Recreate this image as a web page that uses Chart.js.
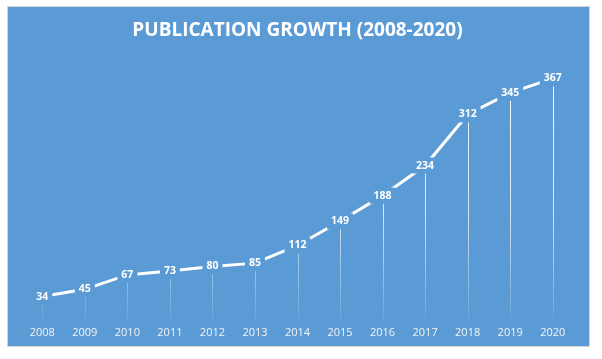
<!DOCTYPE html>
<html>
<head>
<meta charset="utf-8">
<script src="https://cdn.jsdelivr.net/npm/chart.js@4"></script>
<style>
  html, body { margin: 0; padding: 0; background: #ffffff; }
  #box {
    position: absolute; left: 7px; top: 6px; width: 583px; height: 341px;
    box-sizing: border-box; border: 1px solid #d4d4d4; background: #5b9bd5;
  }
  #box canvas { display: block; }
</style>
</head>
<body>
<div id="box"><canvas id="growthChart"></canvas></div>
<script>
const years = ['2008', '2009', '2010', '2011', '2012', '2013', '2014', '2015', '2016', '2017', '2018', '2019', '2020'];
const publications = [34, 45, 67, 73, 80, 85, 112, 149, 188, 234, 312, 345, 367];

const bgColor = '#5b9bd5';

// drop lines from each point down to the axis, fading toward the bottom
const dropLines = {
    id: 'dropLines',
    beforeDatasetsDraw(chart) {
        const ctx = chart.ctx;
        const area = chart.chartArea;
        const grad = ctx.createLinearGradient(0, area.top, 0, area.bottom);
        grad.addColorStop(0, 'rgba(255,255,255,1)');
        grad.addColorStop(0.6, 'rgba(255,255,255,0.75)');
        grad.addColorStop(1, 'rgba(255,255,255,0.1)');
        ctx.save();
        ctx.strokeStyle = grad;
        ctx.lineWidth = 1;
        chart.getDatasetMeta(0).data.forEach((pt) => {
            const x = Math.round(pt.x) + 0.5;
            ctx.beginPath();
            ctx.moveTo(x, pt.y);
            ctx.lineTo(x, area.bottom);
            ctx.stroke();
        });
        ctx.restore();
    }
};

// value labels centred on the points, with a box that hides the line
const valueLabels = {
    id: 'valueLabels',
    afterDatasetsDraw(chart) {
        const ctx = chart.ctx;
        ctx.save();
        ctx.font = 'bold 10.5px "Open Sans"';
        ctx.textAlign = 'center';
        ctx.textBaseline = 'middle';
        chart.getDatasetMeta(0).data.forEach((pt, i) => {
            const txt = String(publications[i]);
            const w = ctx.measureText(txt).width;
            ctx.fillStyle = bgColor;
            ctx.fillRect(pt.x - w / 2 - 4, pt.y - 8, w + 8, 16);
            ctx.fillStyle = '#ffffff';
            ctx.fillText(txt, pt.x, pt.y);
        });
        ctx.restore();
    }
};

const ctx = document.getElementById('growthChart').getContext('2d');
ctx.canvas.width = 581;
ctx.canvas.height = 339;

new Chart(ctx, {
    type: 'line',
    data: {
        labels: years,
        datasets: [{
            label: 'Publications',
            data: publications,
            borderColor: '#ffffff',
            borderWidth: 3,
            pointRadius: 0,
            tension: 0,
            fill: false
        }]
    },
    options: {
        responsive: false,
        animation: false,
        layout: {
            padding: { left: 13, right: 15, top: 0, bottom: 0 }
        },
        plugins: {
            legend: { display: false },
            tooltip: { enabled: false },
            title: {
                display: true,
                text: 'PUBLICATION GROWTH (2008-2020)',
                color: '#ffffff',
                font: { family: '"Open Sans"', size: 19, weight: 'bold' },
                padding: { top: 12, bottom: 15 }
            }
        },
        scales: {
            x: {
                offset: true,
                grid: { display: false, drawTicks: false },
                border: { display: false },
                ticks: {
                    color: '#f4f4f4',
                    font: { family: '"Open Sans"', size: 11 },
                    padding: 7,
                    maxRotation: 0
                }
            },
            y: {
                display: false,
                min: 0,
                max: 400
            }
        }
    },
    plugins: [dropLines, valueLabels]
});
</script>
</body>
</html>
